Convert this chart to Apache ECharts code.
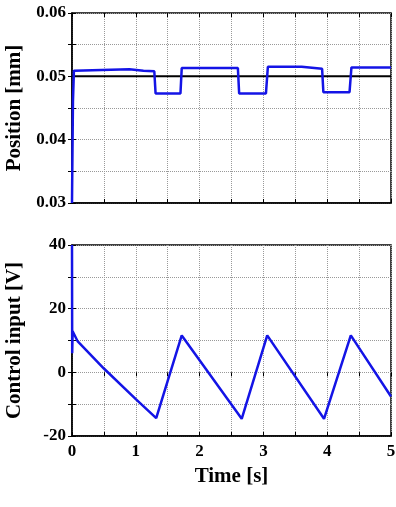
<!DOCTYPE html>
<html>
<head>
<meta charset="utf-8">
<script src="https://cdn.jsdelivr.net/npm/echarts@6/dist/echarts.min.js"></script>
<style>
  html, body { margin: 0; padding: 0; background: #fff; }
  #chart { width: 396px; height: 507px; }
</style>
</head>
<body>
<div id="chart"></div>
<script>
// position response (top panel)
const posTime = [0, 0.005, 0.015, 0.03, 0.06, 0.9, 0.92, 1.12, 1.14, 1.29, 1.31, 1.70, 1.72,
  2.60, 2.62, 3.04, 3.07, 3.60, 3.62, 3.92, 3.94, 4.35, 4.38, 5.0];
const posValue = [0.030, 0.0355, 0.046, 0.0509, 0.0511, 0.0511, 0.0509, 0.0509, 0.0508, 0.0508, 0.0473, 0.0473, 0.0513,
  0.0513, 0.0473, 0.0473, 0.0515, 0.0515, 0.0512, 0.0512, 0.0475, 0.0475, 0.0514, 0.0514];
const refValue = 0.05;

// control input (bottom panel)
const ctrlTime = [0, 0.003, 0.01, 0.09, 0.5, 1.0, 1.32, 1.72, 2.66, 3.06, 3.95, 4.37, 5.0];
const ctrlValue = [40, 6, 12.9, 9.7, 1.2, -8.4, -14.4, 11.6, -14.6, 11.6, -14.6, 11.6, -7.6];

const timeTicks = [0, 1, 2, 3, 4, 5];
const posTicks = [0.03, 0.04, 0.05, 0.06];
const ctrlTicks = [-20, 0, 20, 40];

const font = "'Liberation Serif', 'Times New Roman', serif";
const blue = "#1414e6";

function onTick(list) {
  return (v) => list.some((t) => Math.abs(t - v) < 1e-9) ? String(v) : "";
}

function xAxis(gridIndex, showLabels) {
  return {
    type: "value",
    gridIndex,
    min: 0,
    max: 5,
    interval: 0.5,
    axisLine: { show: true, onZero: false, lineStyle: { color: "#000", width: 1.5 } },
    axisTick: { show: true, inside: true, length: 4, lineStyle: { color: "#000" } },
    axisLabel: {
      show: showLabels,
      formatter: onTick(timeTicks),
      color: "#000",
      fontFamily: font,
      fontWeight: "bold",
      fontSize: 17,
      margin: 7
    },
    splitLine: { lineStyle: { color: "#999", type: "dotted", width: 1 } },
    name: showLabels ? "Time [s]" : "",
    nameLocation: "middle",
    nameGap: 30,
    nameTextStyle: { color: "#000", fontFamily: font, fontWeight: "bold", fontSize: 21 }
  };
}

// top edge ticks only
function xTop(gridIndex) {
  return {
    type: "value",
    gridIndex,
    position: "top",
    min: 0,
    max: 5,
    interval: 0.5,
    axisLine: { show: false },
    axisTick: { show: true, inside: true, length: 4, lineStyle: { color: "#000" } },
    axisLabel: { show: false },
    splitLine: { show: false }
  };
}

function yAxis(gridIndex, min, max, interval, ticks, name) {
  return {
    type: "value",
    gridIndex,
    min,
    max,
    interval,
    axisLine: { show: true, onZero: false, lineStyle: { color: "#000", width: 1.5 } },
    axisTick: { show: true, inside: true, length: 4, lineStyle: { color: "#000" } },
    axisLabel: {
      formatter: onTick(ticks),
      color: "#000",
      fontFamily: font,
      fontWeight: "bold",
      fontSize: 17,
      margin: 6
    },
    splitLine: { lineStyle: { color: "#999", type: "dotted", width: 1 } },
    name,
    nameLocation: "middle",
    nameRotate: 90,
    nameGap: 47,
    nameTextStyle: { color: "#000", fontFamily: font, fontWeight: "bold", fontSize: 21 }
  };
}

// right edge ticks only
function yRight(gridIndex, min, max, interval) {
  return {
    type: "value",
    gridIndex,
    position: "right",
    min,
    max,
    interval,
    axisLine: { show: false },
    axisTick: { show: true, inside: true, length: 4, lineStyle: { color: "#000" } },
    axisLabel: { show: false },
    splitLine: { show: false }
  };
}

const chart = echarts.init(document.getElementById("chart"));
chart.setOption({
  animation: false,
  grid: [
    { left: 72, top: 13, width: 319, height: 190, show: true, borderColor: "#000", borderWidth: 1.5, outerBoundsMode: "none" },
    { left: 72, top: 245, width: 319, height: 191, show: true, borderColor: "#000", borderWidth: 1.5, outerBoundsMode: "none" }
  ],
  xAxis: [xAxis(0, false), xAxis(1, true), xTop(0), xTop(1)],
  yAxis: [
    yAxis(0, 0.03, 0.06, 0.005, posTicks, "Position [mm]"),
    yAxis(1, -20, 40, 10, ctrlTicks, "Control input [V]"),
    yRight(0, 0.03, 0.06, 0.005),
    yRight(1, -20, 40, 10)
  ],
  series: [
    {
      type: "line",
      xAxisIndex: 0,
      yAxisIndex: 0,
      data: [[0, refValue], [5, refValue]],
      showSymbol: false,
      lineStyle: { color: "#000", width: 2 },
      z: 3
    },
    {
      type: "line",
      xAxisIndex: 0,
      yAxisIndex: 0,
      data: posTime.map((t, i) => [t, posValue[i]]),
      showSymbol: false,
      lineStyle: { color: blue, width: 2.5 },
      z: 4
    },
    {
      type: "line",
      xAxisIndex: 1,
      yAxisIndex: 1,
      data: ctrlTime.map((t, i) => [t, ctrlValue[i]]),
      showSymbol: false,
      lineStyle: { color: blue, width: 2.5 },
      z: 4
    }
  ]
});
</script>
</body>
</html>
